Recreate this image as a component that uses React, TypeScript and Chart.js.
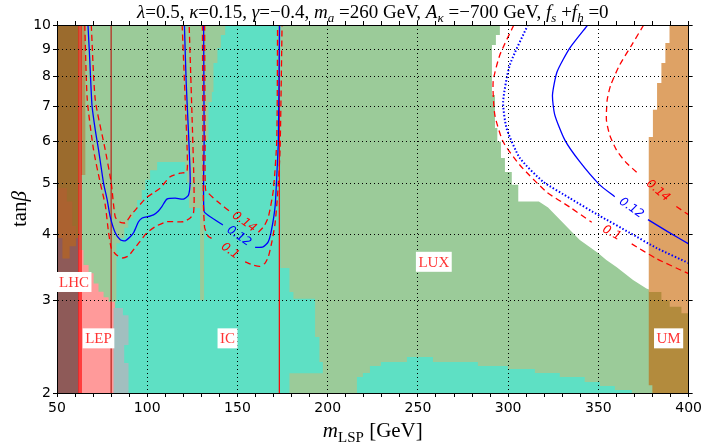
import React, { useEffect, useRef } from "react";
import { Chart, registerables } from "chart.js";

Chart.register(...registerables);

type P = [number, number];

// ---------- axes ----------
const xMin = 50;
const xMax = 400;
const yMin = 2;
const yMax = 10;
const xTickValues = [50, 60, 70, 80, 90, 100, 110, 120, 130, 140, 150, 160, 170, 180, 190, 200, 210, 220, 230, 240, 250, 260, 270, 280, 290, 300, 310, 320, 330, 340, 350, 360, 370, 380, 390, 400];
const xLabelValues = [50, 100, 150, 200, 250, 300, 350, 400];
const yTickValues = [2, 3, 4, 5, 6, 7, 8, 9, 10];

// ---------- regions (m_LSP [GeV], tanβ) ----------
const luxRegion: P[] = [[50, 2], [400, 2], [400, 10], [50, 10]];

const allowedRegion: P[] = [
  [295.4, 10], [295.4, 9.57], [293.2, 9.57], [293.2, 9.16], [291, 9.16], [291, 7.36],
  [292.7, 7.36], [292.7, 6.37], [294, 6.37], [294, 6.0], [296, 6.0], [296, 5.59],
  [298.2, 5.59], [298.2, 5.26], [302, 5.26], [302, 4.97], [305.6, 4.97], [305.6, 4.62],
  [317, 4.62], [322.1, 4.5], [328.6, 4.27], [336, 4.02], [339.7, 3.905], [349.8, 3.69],
  [354.4, 3.58], [360, 3.47], [369.2, 3.28], [376.6, 3.16], [378.5, 3.14], [400, 3.14], [400, 10],
];

const icRegion: P[] = [
  [81.3, 2], [178.8, 2], [178.8, 2.18], [197.3, 2.18], [197.3, 2.29], [195.4, 2.29],
  [195.4, 2.555], [193, 2.555], [193, 3.02], [181, 3.02], [181, 3.11], [178.8, 3.11],
  [178.8, 3.455], [173.8, 3.455], [173.8, 10], [143.2, 10], [143.2, 9.57], [140.8, 9.57],
  [140.8, 9.04], [138.9, 9.04], [138.9, 8.47], [136.7, 8.47], [136.7, 7.46], [135.8, 7.46],
  [135.8, 7.14], [133.9, 7.14], [133.9, 6.05], [131.5, 6.05], [131.5, 3.0], [129.3, 3.0],
  [129.3, 4.49], [123.2, 4.49], [123.2, 5.02], [122, 5.02], [122, 5.26], [121, 5.26],
  [121, 5.49], [105.5, 5.49], [105.5, 5.3], [101.6, 5.3], [101.6, 5.08], [98.9, 5.08],
  [98.9, 4.86], [97, 4.86], [97, 4.65], [94.4, 4.65], [94.4, 4.45], [92.2, 4.45],
  [92.2, 4.3], [89.5, 4.3], [89.5, 4.12], [87.3, 4.12], [87.3, 3.94], [85, 3.94],
  [85, 3.85], [82.9, 3.85], [82.9, 2.98], [82.3, 2.98], [82.3, 2.9], [81.3, 2.9],
];

const icStrip: P[] = [
  [216.2, 2], [216.2, 2.145], [219.5, 2.145], [219.5, 2.183], [223.4, 2.183], [223.4, 2.25],
  [229.5, 2.25], [229.5, 2.29], [243.9, 2.29], [243.9, 2.341], [258.3, 2.341], [258.3, 2.29],
  [283.2, 2.29], [283.2, 2.251], [299.8, 2.251], [299.8, 2.221], [314.8, 2.221], [314.8, 2.183],
  [328.6, 2.183], [328.6, 2.145], [342.4, 2.145], [342.4, 2.099], [350.8, 2.099], [350.8, 2.062],
  [359.1, 2.062], [359.1, 2.026], [368.5, 2.026], [368.5, 2],
];

const lepRegion: P[] = [
  [61, 2], [61, 3.74], [64.7, 3.74], [64.7, 3.5], [67.5, 3.5], [67.5, 3.376], [70.3, 3.376],
  [70.3, 3.23], [73, 3.23], [73, 3.115], [75.8, 3.115], [75.8, 3.04], [78.6, 3.04],
  [78.6, 2.98], [82, 2.98], [82, 2],
];

const lepIcOverlap: P[] = [
  [81.33, 2], [81.33, 2.9], [86.53, 2.9], [86.53, 2.81], [89.63, 2.81], [89.63, 2.467],
  [87.25, 2.467], [87.25, 2.28], [89.63, 2.28], [89.63, 2],
];

const lhcLower: P[] = [[50, 2], [62, 2], [62, 3.94], [50, 3.94]];
const lhcUpper: P[] = [[50, 3.94], [62, 3.94], [62, 10], [50, 10]];
const lhcPatch: P[] = [
  [50, 4.9], [55.5, 4.9], [55.5, 4.62], [58.5, 4.62], [58.5, 4.15], [60.5, 4.15],
  [60.5, 3.8], [57, 3.8], [57, 3.6], [53, 3.6], [53, 3.94], [50, 3.94],
];
const lhcEdge: P[] = [[63.3, 5.19], [65.7, 5.19], [65.7, 10], [63.3, 10]];

const umLower: P[] = [[377.9, 3.12], [400, 3.12], [400, 2], [379.9, 2], [379.9, 2.07], [377.9, 2.07]];
const umUpper: P[] = [
  [389.4, 10], [389.4, 9.24], [387.1, 9.24], [387.1, 8.47], [384.9, 8.47], [384.9, 7.76],
  [382.5, 7.76], [382.5, 6.9], [380.2, 6.9], [380.2, 6.13], [377.9, 6.13], [377.9, 3.11],
  [400, 3.11], [400, 10],
];
const umCorner: P[] = [
  [384.9, 3.12], [400, 3.12], [400, 2.834], [396, 2.834], [396, 2.917], [389.5, 2.917],
  [389.5, 3.0], [384.9, 3.0],
];

// ---------- vertical limit lines ----------
const limitLineA: P[] = [[62.2, 2], [62.2, 10]];
const limitLineB: P[] = [[63.3, 2], [63.3, 10]];
const limitLineC: P[] = [[80, 2], [80, 10]];
const limitLineD: P[] = [[173.2, 2], [173.2, 10]];

// ---------- relic density contours ----------
const blue012Left: P[] = [
  [67.16, 10], [68.16, 8.58], [69.37, 7.05], [71.2, 6.32], [73.03, 5.79], [75.79, 5.01],
  [77.84, 4.65], [79.5, 4.32], [82.27, 4.03], [85.04, 3.91], [87.81, 3.89], [90.57, 3.96],
  [92.4, 4.03], [95.17, 4.23], [97.22, 4.3], [99.82, 4.32], [103.47, 4.36], [106.07, 4.43],
  [108.12, 4.52], [110.89, 4.67], [115.48, 4.69], [120.08, 4.67], [122.84, 4.75], [123.79, 5.04],
  [123.5, 5.54], [122.84, 6.27], [121.57, 7.8], [120.6, 10],
];
const red010Left: P[] = [
  [65.39, 10], [66.77, 7.21], [70.26, 5.79], [73.97, 5.01], [76.74, 4.55], [78.4, 4.08],
  [80.06, 3.77], [82.82, 3.66], [86.15, 3.61], [89.47, 3.64], [93.9, 3.8], [99.82, 4.03],
  [104.97, 4.15], [110.89, 4.23], [120.08, 4.23], [123.79, 4.3], [125.61, 4.39], [126, 4.65],
  [125.72, 5.3], [124.89, 6.6], [123.23, 10],
];
const red014Left: P[] = [
  [68.99, 10], [71.2, 7.21], [76.74, 5.79], [80.06, 5.01], [82.27, 4.32], [85.04, 4.22],
  [87.81, 4.21], [91.13, 4.36], [94.28, 4.49], [99.82, 4.71], [103.47, 4.8], [107.18, 4.9],
  [112.71, 5.15], [118.25, 5.23], [121.96, 5.26], [122.12, 5.79], [121.02, 7.21], [119.36, 10],
];

const blue012MidA: P[] = [[131.26, 10], [131.53, 6.05], [131.53, 4.42], [141.89, 4.17]];
const blue012MidB: P[] = [
  [159.76, 3.78], [164.19, 3.79], [166.96, 3.87], [168.62, 4.04], [170.84, 4.52],
  [171.94, 5.3], [172.66, 6.05], [173.33, 10],
];
const red014MidA: P[] = [[131.81, 10], [132.09, 6.05], [132.36, 4.86], [139.28, 4.61], [145.93, 4.42]];
const red014MidB: P[] = [
  [161.59, 4.04], [164.75, 4.15], [167.13, 4.32], [169.89, 4.86], [171.78, 6.05], [172.22, 10],
];
const red010MidA: P[] = [[130.59, 10], [130.87, 5.79], [131.15, 4.52], [131.81, 4.12], [133.75, 3.97], [137.62, 3.9]];
const red010MidB: P[] = [
  [154.23, 3.55], [158.66, 3.5], [162.53, 3.48], [165.3, 3.53], [167.13, 3.63], [169.17, 3.89],
  [170.84, 4.2], [172.22, 4.75], [173.6, 5.79], [174.71, 10],
];

const blue012RightA: P[] = [
  [344.09, 10], [334.13, 9.04], [327.1, 8.15], [324.55, 7.36], [325.82, 6.75], [331.36, 6.05],
  [339.66, 5.5], [350.73, 4.97], [359.04, 4.72],
];
const blue012RightB: P[] = [[377.47, 4.27], [388.37, 4.05], [400, 3.84]];
const blueDottedRight: P[] = [
  [310.88, 10], [300.92, 8.4], [297.21, 7.15], [299.09, 6.37], [306.45, 5.59], [319.35, 5.04],
  [334.13, 4.69], [350.73, 4.34], [367.34, 4.03], [382.28, 3.77], [400, 3.53],
];
const red010RightA: P[] = [
  [303.13, 10], [295.38, 8.77], [291.67, 7.8], [292.61, 6.75], [297.21, 6.0], [306.45, 5.42],
  [321.23, 4.82], [334.13, 4.51], [346.3, 4.22],
];
const red010RightB: P[] = [[368.45, 3.84], [382.12, 3.6], [400, 3.37]];
const red014RightA: P[] = [
  [375.09, 10], [368.45, 9.16], [361.8, 8.4], [356.82, 7.69], [354.88, 7.21], [354.44, 6.6],
  [356.27, 6.18], [359.98, 5.79], [365.12, 5.49], [372.87, 5.19],
];
const red014RightB: P[] = [[393.19, 4.52], [400, 4.36]];

// ---------- texts ----------
const regionLabels: [string, number, number][] = [
  ["LHC", 59.4, 3.25],
  ["LEP", 73.0, 2.54],
  ["IC", 144.5, 2.54],
  ["LUX", 258.8, 3.55],
  ["UM", 388.9, 2.54],
];

const BLUE = "#0000ff";
const RED = "#ff0000";

const contourLabels = [
  { text: "0.12", color: BLUE, a: blue012MidA, b: blue012MidB },
  { text: "0.14", color: RED, a: red014MidA, b: red014MidB },
  { text: "0.1", color: RED, a: red010MidA, b: red010MidB },
  { text: "0.12", color: BLUE, a: blue012RightA, b: blue012RightB },
  { text: "0.1", color: RED, a: red010RightA, b: red010RightB },
  { text: "0.14", color: RED, a: red014RightA, b: red014RightB },
];

type Part = { t: string; it?: boolean; sub?: boolean };
const titleParts: Part[] = [
  { t: "λ", it: true }, { t: "=0.5, " }, { t: "κ", it: true }, { t: "=0.15, " },
  { t: "γ", it: true }, { t: "=−0.4, " }, { t: "m", it: true }, { t: "a", it: true, sub: true },
  { t: " =260 GeV, " }, { t: "A", it: true }, { t: "κ", it: true, sub: true },
  { t: " =−700 GeV, " }, { t: "f", it: true }, { t: "s", it: true, sub: true }, { t: " +" },
  { t: "f", it: true }, { t: "h", it: true, sub: true }, { t: " =0" },
];
const xTitleParts: Part[] = [{ t: "m", it: true }, { t: "LSP", sub: true }, { t: " [GeV]" }];
const yTitleParts: Part[] = [{ t: "tan" }, { t: "β", it: true }];

// ---------- colours ----------
const C = {
  lux: "#9bcb99",
  allowed: "#ffffff",
  ic: "#5ee0c4",
  lep: "#ff9a9a",
  lepIc: "#a1bfbf",
  lhcLower: "#8e5a58",
  lhcUpper: "#9b6b2d",
  lhcPatch: "#ab6230",
  lhcEdge: "#ac9a5e",
  umLower: "#b38b3d",
  umUpper: "#dea265",
};

const SERIF = '"Liberation Serif", "DejaVu Serif", serif';

function drawRich(ctx: CanvasRenderingContext2D, parts: Part[], cx: number, by: number, size: number, color: string) {
  const subSize = Math.round(size * 0.7);
  const fontOf = (p: Part) => `${p.it ? "italic " : ""}${p.sub ? subSize : size}px ${SERIF}`;
  let w = 0;
  for (const p of parts) {
    ctx.font = fontOf(p);
    w += ctx.measureText(p.t).width;
  }
  let x = cx - w / 2;
  ctx.textAlign = "left";
  ctx.textBaseline = "alphabetic";
  ctx.fillStyle = color;
  for (const p of parts) {
    ctx.font = fontOf(p);
    ctx.fillText(p.t, x, by + (p.sub ? size * 0.22 : 0));
    x += ctx.measureText(p.t).width;
  }
}

const textPlugin = {
  id: "textPlugin",
  afterDraw(chart: any) {
    const { ctx, chartArea, scales } = chart;
    const xs = scales.x;
    const ys = scales.y;
    ctx.save();
    for (const lab of contourLabels) {
      const p1 = lab.a[lab.a.length - 1];
      const p2 = lab.b[0];
      const x1 = xs.getPixelForValue(p1[0]);
      const y1 = ys.getPixelForValue(p1[1]);
      const x2 = xs.getPixelForValue(p2[0]);
      const y2 = ys.getPixelForValue(p2[1]);
      ctx.save();
      ctx.translate((x1 + x2) / 2, (y1 + y2) / 2);
      ctx.rotate(Math.atan2(y2 - y1, x2 - x1));
      ctx.font = 'italic 12px "DejaVu Sans"';
      ctx.fillStyle = lab.color;
      ctx.textAlign = "center";
      ctx.textBaseline = "middle";
      ctx.fillText(lab.text, 0, 0);
      ctx.restore();
    }
    ctx.font = `15px ${SERIF}`;
    ctx.textAlign = "center";
    ctx.textBaseline = "middle";
    for (const [t, x, y] of regionLabels) {
      const px = xs.getPixelForValue(x);
      const py = ys.getPixelForValue(y);
      const w = ctx.measureText(t).width + 5;
      ctx.fillStyle = "#ffffff";
      ctx.fillRect(px - w / 2, py - 10, w, 20);
      ctx.fillStyle = "rgba(255,0,0,0.8)";
      ctx.fillText(t, px, py + 1);
    }
    const cx = (chartArea.left + chartArea.right) / 2;
    const cy = (chartArea.top + chartArea.bottom) / 2;
    drawRich(ctx, titleParts, cx, 18, 19, "#000");
    drawRich(ctx, xTitleParts, cx, 437, 21, "#000");
    ctx.translate(26, cy);
    ctx.rotate(-Math.PI / 2);
    drawRich(ctx, yTitleParts, 0, 0, 21, "#000");
    ctx.restore();
  },
};

const toXY = (d: P[]) => d.map(([x, y]) => ({ x, y }));

function regionDs(data: P[], color: string) {
  return {
    data: toXY(data),
    backgroundColor: color,
    borderColor: "rgba(0,0,0,0)",
    borderWidth: 0,
    fill: "shape",
    pointRadius: 0,
    tension: 0,
  };
}
function lineDs(data: P[], color: string, width: number, dash: number[], tension = 0.2) {
  return {
    data: toXY(data),
    borderColor: color,
    backgroundColor: color,
    borderWidth: width,
    borderDash: dash,
    fill: false,
    pointRadius: 0,
    tension,
  };
}

const DASH = [6, 4];
const DOT = [1.5, 2];

export default function App() {
  const ref = useRef<HTMLCanvasElement>(null);
  useEffect(() => {
    const datasets: any[] = [
      regionDs(luxRegion, C.lux),
      regionDs(allowedRegion, C.allowed),
      regionDs(icRegion, C.ic),
      regionDs(icStrip, C.ic),
      regionDs(lepRegion, C.lep),
      regionDs(lepIcOverlap, C.lepIc),
      regionDs(lhcLower, C.lhcLower),
      regionDs(lhcUpper, C.lhcUpper),
      regionDs(lhcPatch, C.lhcPatch),
      regionDs(lhcEdge, C.lhcEdge),
      regionDs(umLower, C.umLower),
      regionDs(umUpper, C.umUpper),
      regionDs(umCorner, C.umUpper),
      lineDs(limitLineA, RED, 1.2, [], 0),
      lineDs(limitLineB, RED, 1.2, [], 0),
      lineDs(limitLineC, "#b8241c", 1.2, [], 0),
      lineDs(limitLineD, RED, 1.2, [], 0),
      lineDs(blue012Left, BLUE, 1.3, []),
      lineDs(red010Left, RED, 1.3, DASH),
      lineDs(red014Left, RED, 1.3, DASH),
      lineDs(blue012MidA, BLUE, 1.3, [], 0.1),
      lineDs(blue012MidB, BLUE, 1.3, []),
      lineDs(red014MidA, RED, 1.3, DASH, 0.1),
      lineDs(red014MidB, RED, 1.3, DASH),
      lineDs(red010MidA, RED, 1.3, DASH, 0.1),
      lineDs(red010MidB, RED, 1.3, DASH),
      lineDs(blue012RightA, BLUE, 1.3, []),
      lineDs(blue012RightB, BLUE, 1.3, []),
      lineDs(blueDottedRight, BLUE, 2, DOT),
      lineDs(red010RightA, RED, 1.3, DASH),
      lineDs(red010RightB, RED, 1.3, DASH),
      lineDs(red014RightA, RED, 1.3, DASH),
      lineDs(red014RightB, RED, 1.3, DASH),
    ];
    datasets.forEach((d, i) => (d.order = -i));

    const xTicks = (s: any) => {
      s.ticks = xTickValues.map((v) => ({ value: v }));
    };
    const yTicks = (s: any) => {
      s.ticks = yTickValues.map((v) => ({ value: v }));
    };
    const xGridColor = (c: any) => {
      const v = c.tick ? c.tick.value : NaN;
      return xLabelValues.includes(v) && v !== xMin && v !== xMax ? "#000" : "rgba(0,0,0,0)";
    };
    const yGridColor = (c: any) => {
      const v = c.tick ? c.tick.value : NaN;
      return v !== yMin && v !== yMax ? "#000" : "rgba(0,0,0,0)";
    };
    const tickFont = { family: '"DejaVu Sans"', size: 14 };

    const chart = new Chart(ref.current as HTMLCanvasElement, {
      type: "line",
      data: { datasets },
      options: {
        responsive: false,
        animation: false,
        events: [],
        layout: { padding: 0 },
        plugins: { legend: { display: false }, tooltip: { enabled: false }, title: { display: false } },
        elements: { point: { radius: 0 } },
        scales: {
          x: {
            type: "linear",
            axis: "x",
            position: "bottom",
            min: xMin,
            max: xMax,
            afterBuildTicks: xTicks,
            afterFit: (s: any) => {
              s.height = 50;
            },
            ticks: {
              autoSkip: false,
              maxRotation: 0,
              padding: 3,
              color: "#000",
              font: tickFont,
              callback: (v: any) => (xLabelValues.includes(Number(v)) ? String(v) : ""),
            },
            grid: { z: 1, color: xGridColor, tickColor: "#000", tickLength: 4, lineWidth: 1 },
            border: { display: true, color: "#000", width: 1, dash: [1, 3], z: 2 },
          },
          x2: {
            type: "linear",
            axis: "x",
            position: "top",
            min: xMin,
            max: xMax,
            afterBuildTicks: xTicks,
            afterFit: (s: any) => {
              s.height = 25;
            },
            ticks: { display: false },
            grid: { drawOnChartArea: false, color: "#000", tickColor: "#000", tickLength: 4 },
            border: { display: true, color: "#000", width: 1, z: 2 },
          },
          y: {
            type: "logarithmic",
            axis: "y",
            position: "left",
            min: yMin,
            max: yMax,
            afterBuildTicks: yTicks,
            afterFit: (s: any) => {
              s.width = 57;
            },
            ticks: {
              autoSkip: false,
              padding: 2,
              color: "#000",
              font: tickFont,
              callback: (v: any) => String(v),
            },
            grid: { z: 1, color: yGridColor, tickColor: "#000", tickLength: 4, lineWidth: 1 },
            border: { display: true, color: "#000", width: 1, dash: [1, 3], z: 2 },
          },
          y2: {
            type: "logarithmic",
            axis: "y",
            position: "right",
            min: yMin,
            max: yMax,
            afterBuildTicks: yTicks,
            afterFit: (s: any) => {
              s.width = 16;
            },
            ticks: { display: false },
            grid: { drawOnChartArea: false, color: "#000", tickColor: "#000", tickLength: 4 },
            border: { display: true, color: "#000", width: 1, z: 2 },
          },
        },
      } as any,
      plugins: [textPlugin],
    });
    return () => chart.destroy();
  }, []);

  return (
    <div style={{ position: "absolute", left: 0, top: 0, width: 705, height: 443, background: "#fff" }}>
      <canvas ref={ref} width={705} height={443} style={{ display: "block", width: 705, height: 443 }} />
    </div>
  );
}
